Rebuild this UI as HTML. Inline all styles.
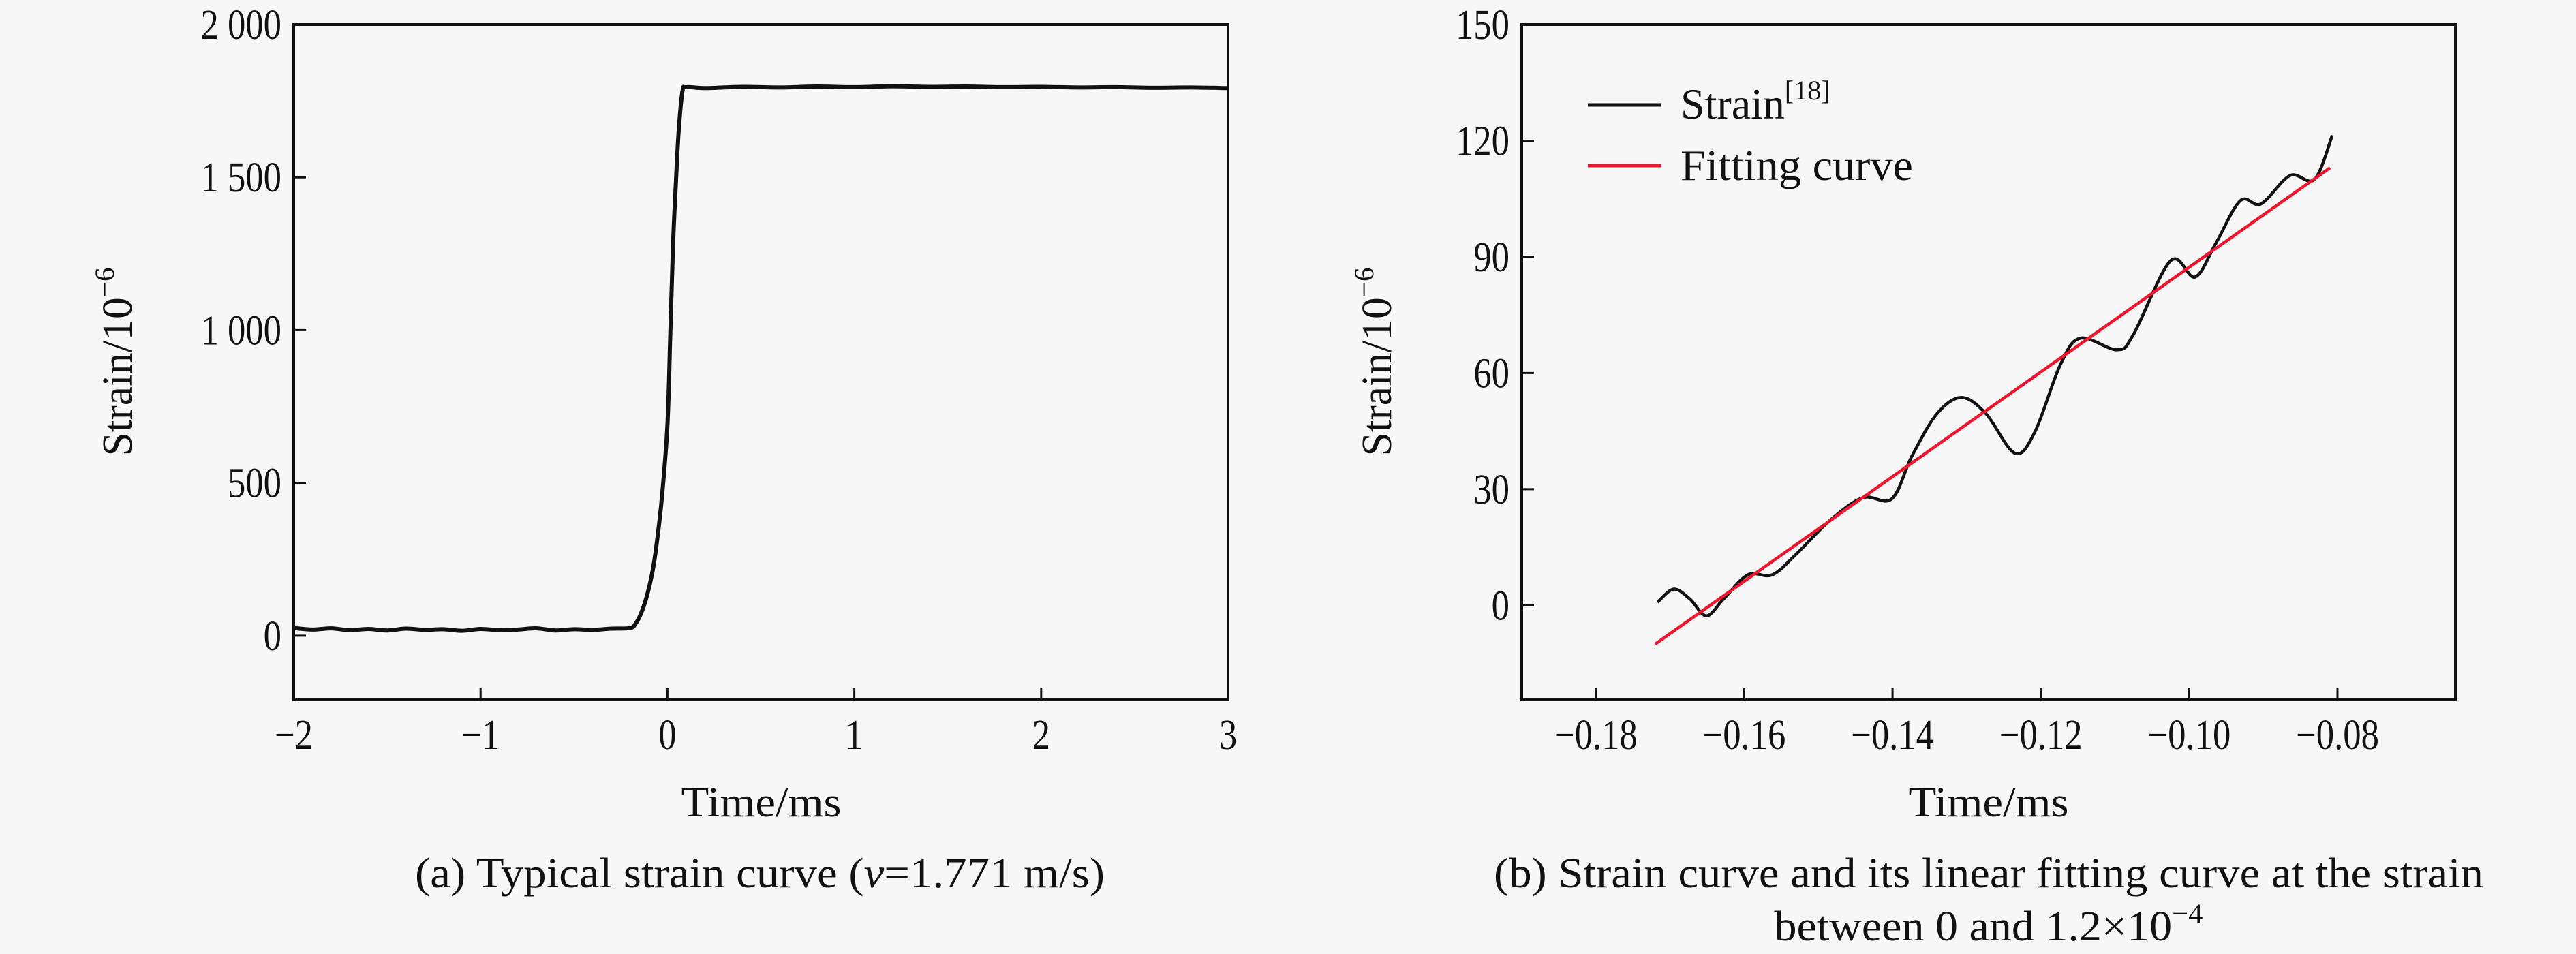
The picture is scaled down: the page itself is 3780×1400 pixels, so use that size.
<!DOCTYPE html>
<html><head><meta charset="utf-8"><style>
html,body{margin:0;padding:0;background:#f7f7f7;}
svg{display:block;font-family:"Liberation Serif",serif;}
</style></head><body>
<svg id="fig" width="3780" height="1400" viewBox="0 0 3780 1400">
<rect width="3780" height="1400" fill="#f7f7f7"/>
<g id="panelA"></g>
<g id="panelB"></g>
</svg>
<script>
// Panel A data
const aTime = [-2,-1.9,-1.8,-1.7,-1.6,-1.5,-1.4,-1.3,-1.2,-1.1,-1.0,-0.9,-0.8,-0.7,-0.6,-0.5,-0.4,-0.3,-0.2,-0.17,-0.14,-0.11,-0.08,-0.06,-0.03,0,0.015,0.03,0.045,0.06,0.08,0.1,0.2,0.4,0.6,0.8,1.0,1.2,1.4,1.6,1.8,2.0,2.2,2.4,2.6,2.8,3.0];
const aStrain = [25,20,24,18,22,17,23,19,21,16,22,18,20,24,17,21,19,23,25,40,75,130,210,290,450,690,980,1280,1480,1650,1780,1795,1792,1796,1794,1797,1795,1798,1796,1797,1795,1796,1794,1795,1793,1794,1792];
const aXTicks = [-2,-1,0,1,2,3];
const aXLabels = ["\u22122","\u22121","0","1","2","3"];
const aYTicks = [0,500,1000,1500,2000];
const aYLabels = ["0","500","1 000","1 500","2 000"];
// Panel B data
const bTime = [-0.1717,-0.1695,-0.1673,-0.1651,-0.1628,-0.1595,-0.1562,-0.1529,-0.1484,-0.144,-0.1401,-0.1374,-0.134,-0.1307,-0.1274,-0.1235,-0.1208,-0.1174,-0.1147,-0.1097,-0.1075,-0.1025,-0.0992,-0.0964,-0.0931,-0.0903,-0.0864,-0.0831,-0.0807];
const bStrain = [0.8,4.2,1.6,-2.7,1.6,7.9,7.9,13.4,22,27.8,27.5,38.5,49.5,53.7,49.5,39.3,44.8,62,69,66,70,89,84.8,93.5,104.5,103.7,111,110,121.4];
const bFitTime = [-0.172,-0.081];
const bFitStrain = [-10,113];
const bXTicks = [-0.18,-0.16,-0.14,-0.12,-0.10,-0.08];
const bXLabels = ["\u22120.18","\u22120.16","\u22120.14","\u22120.12","\u22120.10","\u22120.08"];
const bYTicks = [0,30,60,90,120,150];
const bYLabels = ["0","30","60","90","120","150"];

const NS="http://www.w3.org/2000/svg";
function mk(parent,tag,attrs,text){const e=document.createElementNS(NS,tag);for(const k in attrs)e.setAttribute(k,attrs[k]);if(text!==undefined)e.textContent=text;parent.appendChild(e);return e;}
function smoothPath(pts){let d="M"+pts[0][0]+","+pts[0][1];for(let i=0;i<pts.length-1;i++){const p0=pts[i-1]||pts[i],p1=pts[i],p2=pts[i+1],p3=pts[i+2]||p2;
 d+=" C"+(p1[0]+(p2[0]-p0[0])/6)+","+(p1[1]+(p2[1]-p0[1])/6)+" "+(p2[0]-(p3[0]-p1[0])/6)+","+(p2[1]-(p3[1]-p1[1])/6)+" "+p2[0]+","+p2[1];}return d;}

function panel(g,cfg){
 const {L,R,T,B,xmin,xmax,ymin,ymax}=cfg;
 const sx=v=>L+(v-xmin)/(xmax-xmin)*(R-L);
 const sy=v=>B-(v-ymin)/(ymax-ymin)*(B-T);
 cfg.xTicks.forEach((t,i)=>{
  const tk=mk(g,"line",{x1:sx(t),x2:sx(t),y1:B,y2:B-18,stroke:"#111","stroke-width":3});
  
  
  const lb=mk(g,"text",{x:sx(t),y:B+72,"text-anchor":"middle","font-size":62,fill:"#111",transform:"translate("+sx(t)+",0) scale(0.85,1) translate("+(-sx(t))+",0)"},cfg.xLabels[i]);
  
  
 });
 cfg.yTicks.forEach((t,i)=>{
  const tk=mk(g,"line",{x1:L,x2:L+18,y1:sy(t),y2:sy(t),stroke:"#111","stroke-width":3});
  
  
  const lb=mk(g,"text",{x:L-18,y:sy(t)+21,"text-anchor":"end","font-size":62,fill:"#111",transform:"translate("+(L-18)+",0) scale(0.85,1) translate("+(-(L-18))+",0)"},cfg.yLabels[i]);
  
  
 });
 cfg.series.forEach(s=>{
  const pts=s.x.map((v,i)=>[sx(v),sy(s.y[i])]);
  const p=mk(g,"path",{d:s.smooth?smoothPath(pts):"M"+pts.map(q=>q.join(",")).join(" L"),fill:"none",stroke:s.color,"stroke-width":s.w,"stroke-linejoin":"round"});
  
  
 });
 const fr=mk(g,"rect",{x:L,y:T,width:R-L,height:B-T,fill:"none",stroke:"#111","stroke-width":4});
 
 
}

const gA=document.getElementById("panelA");
panel(gA,{L:431,R:1802,T:36,B:1027,xmin:-2,xmax:3,ymin:-210,ymax:2000,xTicks:aXTicks,xLabels:aXLabels,yTicks:aYTicks,yLabels:aYLabels,
 series:[{x:aTime,y:aStrain,color:"#111",w:6,name:"strain-line",smooth:true}]});
const gB=document.getElementById("panelB");
panel(gB,{L:2233,R:3603,T:36,B:1027,xmin:-0.19,xmax:-0.0641,ymin:-24.4,ymax:150,xTicks:bXTicks,xLabels:bXLabels,yTicks:bYTicks,yLabels:bYLabels,
 series:[{x:bTime,y:bStrain,color:"#111",w:4.5,name:"strain-curve",smooth:true},{x:bFitTime,y:bFitStrain,color:"#f0142d",w:4.5,name:"fitting-line",smooth:false}]});
</script>
<svg style="position:absolute;left:0;top:0" width="3780" height="1400" viewBox="0 0 3780 1400">
 <g font-family="Liberation Serif, serif" fill="#111">
  <text x="193" y="531" font-size="62" text-anchor="middle" transform="rotate(-90 193 531)" textLength="277" lengthAdjust="spacingAndGlyphs">Strain/10<tspan font-size="40" dy="-26">−6</tspan></text>
  <text x="1117" y="1198" font-size="62" text-anchor="middle" textLength="235" lengthAdjust="spacingAndGlyphs">Time/ms</text>
  <text x="1115" y="1302" font-size="62" text-anchor="middle" textLength="1012" lengthAdjust="spacingAndGlyphs">(a) Typical strain curve (<tspan font-style="italic">v</tspan>=1.771 m/s)</text>
  <text x="2041" y="531" font-size="62" text-anchor="middle" transform="rotate(-90 2041 531)" textLength="277" lengthAdjust="spacingAndGlyphs">Strain/10<tspan font-size="40" dy="-26">−6</tspan></text>
  <text x="2918" y="1198" font-size="62" text-anchor="middle" textLength="235" lengthAdjust="spacingAndGlyphs">Time/ms</text>
  <text x="2918" y="1302" font-size="62" text-anchor="middle" textLength="1452" lengthAdjust="spacingAndGlyphs">(b) Strain curve and its linear fitting curve at the strain</text>
  <text x="2918" y="1380" font-size="62" text-anchor="middle" textLength="629" lengthAdjust="spacingAndGlyphs">between 0 and 1.2×10<tspan font-size="40" dy="-26">−4</tspan></text>
  <line x1="2330" x2="2438" y1="154" y2="154" stroke="#111" stroke-width="5"/>
  <text x="2466" y="174" font-size="64">Strain<tspan font-size="40" dy="-28">[18]</tspan></text>
  <line x1="2330" x2="2438" y1="243" y2="243" stroke="#f0142d" stroke-width="5"/>
  <text x="2466" y="264" font-size="64" textLength="341" lengthAdjust="spacingAndGlyphs">Fitting curve</text>
 </g>
</svg>
</body></html>
